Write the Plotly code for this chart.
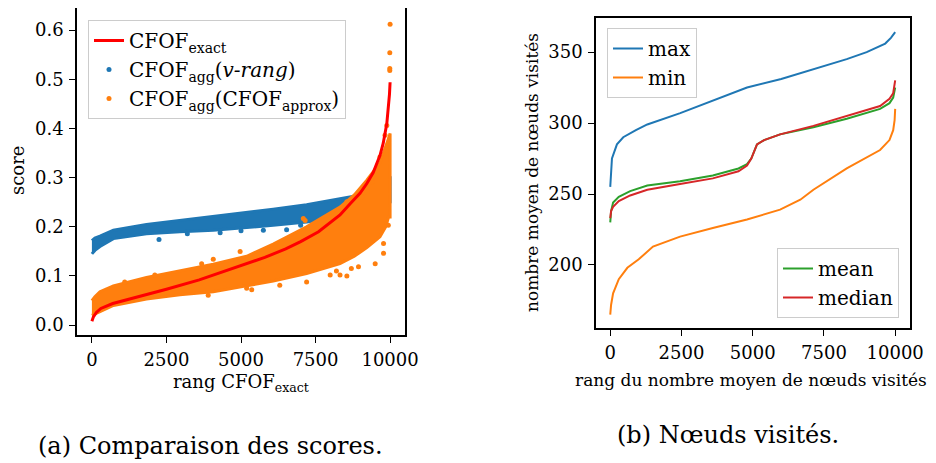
import plotly.graph_objects as go

# ---------------- Left panel data ----------------
exact_x = [0, 50, 150, 300, 700, 1400, 2500, 3600, 4700, 5800, 6500, 7000, 7600, 8000,
           8320, 8660, 8990, 9220, 9430, 9660, 9770, 9890, 9940, 9980, 10000]
exact_y = [0.008, 0.017, 0.026, 0.034, 0.044, 0.055, 0.073, 0.092, 0.115, 0.138, 0.155,
           0.170, 0.190, 0.208, 0.224, 0.247, 0.268, 0.288, 0.310, 0.345, 0.370, 0.410,
           0.440, 0.470, 0.494]

# v-rang band (dense scatter) envelope
vr_x = [0, 100, 270, 720, 1830, 2950, 4070, 5190, 6080, 7200, 8320, 8880, 9500, 9800, 9900, 10000]
vr_hi = [0.172, 0.177, 0.181, 0.193, 0.205, 0.213, 0.221, 0.229, 0.236, 0.245, 0.256,
         0.263, 0.270, 0.280, 0.300, 0.300]
vr_lo = [0.145, 0.152, 0.160, 0.176, 0.186, 0.190, 0.193, 0.199, 0.203, 0.210, 0.220,
         0.225, 0.235, 0.238, 0.240, 0.250]
vr_out_x = [2250, 3200, 4300, 5000, 5750, 6530, 7000, 7800]
vr_out_y = [0.174, 0.186, 0.188, 0.192, 0.193, 0.194, 0.203, 0.208]

# CFOF_approx band (dense scatter) envelope
ap_x = [0, 100, 270, 720, 1830, 2950, 4070, 5190, 6080, 7200, 8320, 8800, 9220, 9660, 9850, 9950, 10000]
ap_hi = [0.050, 0.058, 0.068, 0.080, 0.097, 0.110, 0.124, 0.140, 0.165, 0.200, 0.240,
         0.265, 0.295, 0.330, 0.360, 0.380, 0.390]
ap_lo = [0.020, 0.022, 0.027, 0.040, 0.053, 0.062, 0.068, 0.080, 0.090, 0.105, 0.125,
         0.140, 0.158, 0.180, 0.200, 0.220, 0.220]
ap_out_x = [1100, 2110, 3680, 4070, 4970, 7090, 7150, 8550, 9050, 9220, 9390, 9550, 9660,
            9830, 9890, 9990, 9990, 9990, 10000,
            3900, 5190, 5360, 6300, 7200, 7990, 8200, 8320, 8550, 8700, 8940, 9500, 9780,
            9780, 9940]
ap_out_y = [0.088, 0.102, 0.125, 0.134, 0.150, 0.217, 0.213, 0.251, 0.261, 0.271, 0.291,
            0.315, 0.342, 0.386, 0.406, 0.518, 0.522, 0.554, 0.612,
            0.061, 0.075, 0.072, 0.081, 0.088, 0.102, 0.110, 0.102, 0.100, 0.115, 0.119,
            0.125, 0.146, 0.166, 0.203]

# ---------------- Right panel data ----------------
max_x = [0, 20, 60, 235, 456, 900, 1300, 2456, 3600, 4800, 6000, 7130, 8300, 9000, 9650, 9850, 10000]
max_y = [255, 265, 275, 285, 290, 295, 299, 307, 316, 325, 331, 338, 345, 350, 356, 360, 364]

min_x = [0, 30, 100, 300, 600, 1000, 1500, 2450, 3600, 4800, 5960, 6670, 7130, 8300, 9470,
         9800, 9930, 9980, 10000]
min_y = [165, 172, 180, 190, 198, 204, 213, 220, 226, 232, 239, 246, 253, 268, 281, 288,
         295, 302, 310]

mm_x = [0, 30, 100, 300, 700, 1300, 2450, 3600, 4500, 4800, 4950, 5050, 5150, 5400, 5960,
        7130, 8300, 9470, 9800, 9930, 10000]
mean_y = [230, 238, 244, 248, 252, 256, 259, 263, 268, 271, 275, 280, 285, 288, 292, 297,
          303, 310, 314, 318, 325]
median_y = [233, 238, 241, 245, 249, 253, 257, 261, 266, 270, 275, 280, 285, 288, 292, 298,
            305, 312, 317, 321, 330]

x_ticks = [0, 2500, 5000, 7500, 10000]
x_ticktext = ["0", "2500", "5000", "7500", "10000"]
left_y_ticks = [0.0, 0.1, 0.2, 0.3, 0.4, 0.5, 0.6]
right_y_ticks = [200, 250, 300, 350]

BLUE, ORANGE, GREEN, RED = "#1f77b4", "#ff7f0e", "#2ca02c", "#d62728"
FONT = "DejaVu Serif"
W, H = 936, 463
OFF = 8  # page body margin


def px2x(p):
    return (p - OFF) / W


def py2y(p):
    return 1 - (p - OFF) / H


fig = go.Figure()

# bands
fig.add_trace(go.Scatter(x=vr_x + vr_x[::-1], y=vr_hi + vr_lo[::-1], fill="toself",
                         fillcolor=BLUE, mode="lines", line=dict(color=BLUE, width=3),
                         showlegend=False, hoverinfo="skip", xaxis="x", yaxis="y"))
fig.add_trace(go.Scatter(x=vr_out_x, y=vr_out_y, mode="markers",
                         marker=dict(color=BLUE, size=5),
                         name="CFOF<sub>agg</sub>(<i>v-rang</i>)", legend="legend",
                         xaxis="x", yaxis="y"))
fig.add_trace(go.Scatter(x=ap_x + ap_x[::-1], y=ap_hi + ap_lo[::-1], fill="toself",
                         fillcolor=ORANGE, mode="lines", line=dict(color=ORANGE, width=3),
                         showlegend=False, hoverinfo="skip", xaxis="x", yaxis="y"))
fig.add_trace(go.Scatter(x=ap_out_x, y=ap_out_y, mode="markers",
                         marker=dict(color=ORANGE, size=5),
                         name="CFOF<sub>agg</sub>(CFOF<sub>approx</sub>)", legend="legend",
                         xaxis="x", yaxis="y"))
fig.add_trace(go.Scatter(x=exact_x, y=exact_y, mode="lines", line=dict(color="red", width=3),
                         name="CFOF<sub>exact</sub>", legend="legend", legendrank=1,
                         xaxis="x", yaxis="y"))

# right panel
fig.add_trace(go.Scatter(x=max_x, y=max_y, mode="lines", line=dict(color=BLUE, width=2),
                         name="max", legend="legend2", xaxis="x2", yaxis="y2"))
fig.add_trace(go.Scatter(x=min_x, y=min_y, mode="lines", line=dict(color=ORANGE, width=2),
                         name="min", legend="legend2", xaxis="x2", yaxis="y2"))
fig.add_trace(go.Scatter(x=mm_x, y=mean_y, mode="lines", line=dict(color=GREEN, width=2),
                         name="mean", legend="legend3", xaxis="x2", yaxis="y2"))
fig.add_trace(go.Scatter(x=mm_x, y=median_y, mode="lines", line=dict(color=RED, width=2),
                         name="median", legend="legend3", xaxis="x2", yaxis="y2"))

axis_common = dict(showline=True, linecolor="black", linewidth=1.6, mirror=True,
                   ticks="outside", ticklen=6, tickwidth=1.3, tickcolor="black",
                   showgrid=False, zeroline=False,
                   tickfont=dict(family=FONT, size=18, color="black"),
                   automargin=False, ticklabelstandoff=2)

leg_common = dict(bgcolor="rgba(255,255,255,0.8)", bordercolor="#cccccc", borderwidth=1,
                  font=dict(family=FONT, size=20, color="black"), tracegroupgap=0)

fig.update_layout(
    width=W, height=H, margin=dict(l=0, r=0, t=0, b=0),
    paper_bgcolor="white", plot_bgcolor="white",
    font=dict(family=FONT, color="black"),
    xaxis=dict(domain=[px2x(77), px2x(405)], range=[-500, 10500],
               tickvals=x_ticks, ticktext=x_ticktext, anchor="y", **axis_common),
    yaxis=dict(domain=[py2y(335), py2y(8)], range=[-0.02, 0.645],
               tickvals=left_y_ticks, tickformat=".1f", anchor="x", **axis_common),
    xaxis2=dict(domain=[px2x(596), px2x(910)], range=[-500, 10520],
                tickvals=x_ticks, ticktext=x_ticktext, anchor="y2", **axis_common),
    yaxis2=dict(domain=[py2y(328), py2y(18)], range=[155.6, 374],
                tickvals=right_y_ticks, anchor="x2", **axis_common),
    legend=dict(x=px2x(88), y=py2y(20), xanchor="left", yanchor="top",
                traceorder="normal", **leg_common),
    legend2=dict(x=px2x(607), y=py2y(28), xanchor="left", yanchor="top", **leg_common),
    legend3=dict(x=px2x(899), y=py2y(318), xanchor="right", yanchor="bottom", **leg_common),
)

ann_font = dict(family=FONT, size=18, color="black")
ann_font_small = dict(family=FONT, size=17, color="black")
cap_font = dict(family=FONT, size=24, color="black")
annotations = [
    dict(text="score", x=px2x(18), y=py2y(171), textangle=-90, font=ann_font),
    dict(text="rang CFOF<sub>exact</sub>", x=px2x(241), y=py2y(383), font=ann_font),
    dict(text="nombre moyen de nœuds visités", x=px2x(532), y=py2y(173), textangle=-90, font=ann_font_small),
    dict(text="rang du nombre moyen de nœuds visités", x=px2x(751), y=py2y(380), font=ann_font_small),
    dict(text="(a) Comparaison des scores.", x=px2x(210), y=py2y(446), font=cap_font),
    dict(text="(b) Nœuds visités.", x=px2x(728), y=py2y(435), font=cap_font),
]
for a in annotations:
    a.update(xref="paper", yref="paper", showarrow=False, xanchor="center", yanchor="middle")
fig.update_layout(annotations=annotations)

fig.write_html("out.html")
